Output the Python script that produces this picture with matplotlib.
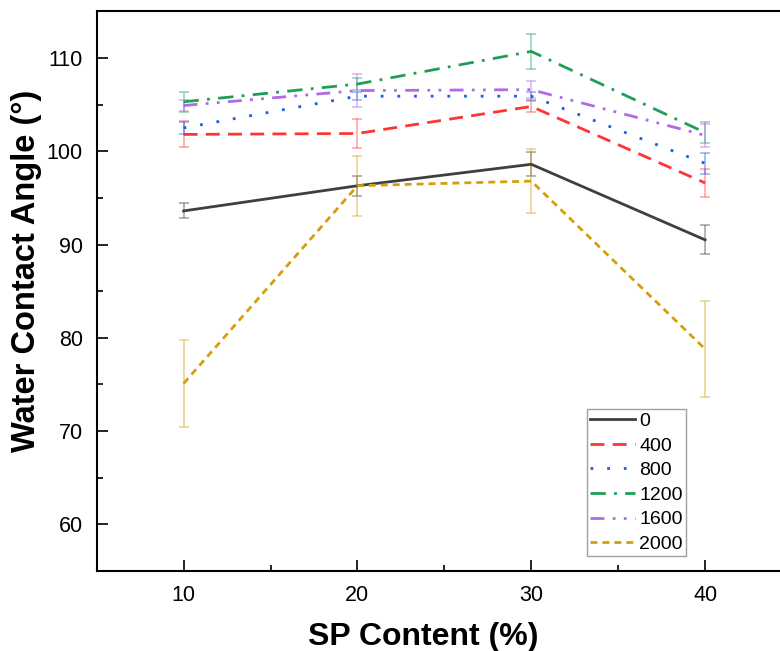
import matplotlib
matplotlib.use("Agg")
import matplotlib.pyplot as plt
from matplotlib.ticker import MultipleLocator

plt.rcParams['font.family'] = ['Liberation Sans', 'DejaVu Sans']

sp_content = [10, 20, 30, 40]
labels = ["0", "400", "800", "1200", "1600", "2000"]
means = {
    "0":    [93.6, 96.3, 98.6, 90.5],
    "400":  [101.8, 101.9, 104.8, 96.6],
    "800":  [102.5, 105.9, 105.9, 98.7],
    "1200": [105.3, 107.2, 110.7, 102.0],
    "1600": [104.9, 106.5, 106.6, 101.7],
    "2000": [75.1, 96.3, 96.8, 78.8],
}
errors = {
    "0":    [0.8, 1.05, 1.3, 1.55],
    "400":  [1.4, 1.6, 0.6, 1.5],
    "800":  [0.65, 0.4, 0.45, 1.1],
    "1200": [1.05, 0.6, 1.9, 1.15],
    "1600": [0.6, 1.8, 0.9, 1.2],
    "2000": [4.7, 3.2, 3.4, 5.1],
}
colors = {
    "0": "#3f3f3f", "400": "#ff3535", "800": "#1a5fe6",
    "1200": "#1f9f55", "1600": "#b06ae6", "2000": "#d4a00a",
}
styles = {
    "0": "-",
    "400": (0, (5, 3)),
    "800": (0, (1, 5)),
    "1200": (0, (5.5, 3, 1, 3)),
    "1600": (0, (5, 3, 1, 3, 1, 3)),
    "2000": (0, (2.5, 1.8)),
}

W, H = 780, 651
fig = plt.figure(figsize=(W / 100, H / 100), dpi=100)
ax = fig.add_axes([96.7 / W, 1 - 571 / H, (792 - 96.7) / W, (571 - 11.3) / H])

for lab in labels:
    ax.errorbar(sp_content, means[lab], yerr=errors[lab], fmt='none',
                ecolor=colors[lab], alpha=0.45, elinewidth=1.2, capsize=3.8,
                capthick=1.2, zorder=2)
    ax.plot(sp_content, means[lab], linestyle=styles[lab], color=colors[lab],
            lw=2.0, label=lab, zorder=3)

ax.set_xlim(5, 45)
ax.set_ylim(55, 115)
ax.set_xticks([10, 20, 30, 40])
ax.set_yticks([60, 70, 80, 90, 100, 110])
ax.xaxis.set_minor_locator(MultipleLocator(5))
ax.yaxis.set_minor_locator(MultipleLocator(5))
ax.tick_params(which='major', direction='in', length=8, width=1.2, labelsize=15.5, pad=10)
ax.tick_params(which='minor', direction='in', length=4, width=1.2)
ax.tick_params(top=False, right=False, which='both')
for s in ax.spines.values():
    s.set_linewidth(1.5)

fig.text(423 / W, 1 - 637 / H, "SP Content (%)", fontsize=23, fontweight='bold',
         ha='center', va='center')
fig.text(27 / W, 1 - 271 / H, "Water Contact Angle (°)", fontsize=23.5, fontweight='bold',
         ha='center', va='center', rotation=90)

leg = ax.legend(loc='lower left', bbox_to_anchor=(0.705, 0.027), borderaxespad=0,
                fontsize=14, handlelength=2.3, handletextpad=0.25, labelspacing=0.36,
                borderpad=0.15, fancybox=False, frameon=True)
leg.get_frame().set_edgecolor('#8a8a8a')
leg.get_frame().set_linewidth(1.0)

fig.savefig("out.png", dpi=100)
